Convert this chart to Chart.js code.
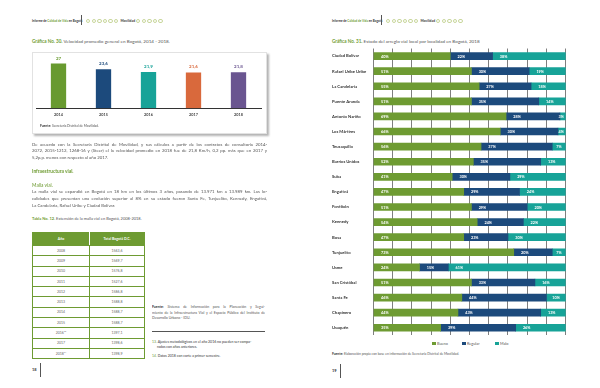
<!DOCTYPE html>
<html><head><meta charset="utf-8">
<script src="https://cdn.jsdelivr.net/npm/chart.js@4.4.1/dist/chart.umd.min.js"></script>
<style>
html,body{margin:0;padding:0;background:#fff;}
#page{position:relative;width:600px;height:388px;overflow:hidden;font-family:Lato,'Open Sans',sans-serif;color:#555;}
.a{position:absolute;white-space:nowrap;}
.t{font-size:4.3px;line-height:6px;height:6px;}
.j{text-align:justify;text-align-last:justify;white-space:normal;overflow:hidden;}
.g{color:#6e9b32;font-weight:bold;}
.hdr{font-size:3px;line-height:6px;height:6px;font-weight:bold;color:#333;display:flex;align-items:center;}
.dot{display:inline-block;width:2.4px;height:2.4px;border:0.6px solid #c9d79c;border-radius:50%;margin-right:1.2px;}
.vline{position:absolute;width:1px;background:#555;}
.small{font-size:3.5px;line-height:5.6px;height:5.6px;}
table.tb{position:absolute;border-collapse:collapse;font-size:3.5px;color:#666;text-align:center;}
table.tb td{border:1px solid #6e9b32;padding:0;height:9.3px;}
table.tb th{background:#6e9b32;color:#fff;font-weight:bold;height:12px;padding:0;border:1px solid #6e9b32;}
.lg{position:absolute;font-size:3.8px;line-height:5px;color:#555;}
.sq{display:inline-block;width:3.5px;height:3.5px;margin-right:1.5px;vertical-align:-0.3px;}
</style></head>
<body><div id="page">

<!-- LEFT PAGE -->
<div class="a hdr" style="left:32px;top:18px;"><span>Informe de <span style="color:#6e9b32">Calidad de Vida</span> en Bogotá</span></div>
<div class="vline" style="left:81px;top:15px;height:10px;"></div>
<div class="a hdr" style="left:86px;top:18px;"><span class="dot"></span><span class="dot"></span><span class="dot"></span><span class="dot"></span><span class="dot"></span><span class="dot"></span><span style="margin:0 1px;font-size:3.3px">Movilidad</span><span class="dot"></span><span class="dot"></span><span class="dot"></span><span class="dot"></span><span class="dot"></span></div>

<div class="a t" style="left:32px;top:38px;font-size:4.6px;"><span class="g">Gráfica No. 30.</span> Velocidad promedio general en Bogotá, 2014 - 2018.</div>

<div class="a" style="left:32px;top:52px;width:235px;height:82px;border:1px solid #e2e2e2;box-sizing:border-box;box-shadow:1.5px 1.5px 2px rgba(0,0,0,0.3);background:#fff;"></div>
<canvas id="c1" width="235" height="82" class="a" style="left:32px;top:52px;"></canvas>
<div class="a small" style="left:40px;top:123.5px;font-size:3.3px;"><b style="color:#333">Fuente:</b> Secretaría Distrital de Movilidad.</div>

<div class="a t j" style="left:32px;top:141.7px;width:235px;">De acuerdo con la Secretaría Distrital de Movilidad, y sus cálculos a partir de los contratos de consultoría 2014-</div>
<div class="a t j" style="left:32px;top:148.3px;width:235px;">2072, 2015-1212, 1268-16 y (Steer) el la velocidad promedio en 2018 fue de 21,8 Km/h, 0,2 pp. más que en 2017 y</div>
<div class="a t" style="left:32px;top:155px;">5,2p.p. menos con respecto al año 2017.</div>

<div class="a t g" style="left:32px;top:168px;font-size:4.8px;">Infraestructura vial.</div>
<div class="a t g" style="left:32px;top:181.7px;font-size:4.8px;font-weight:normal;">Malla vial.</div>
<div class="a t j" style="left:32px;top:189px;width:235px;">La malla vial se expandió en Bogotá en 18 km en los últimos 3 años, pasando de 13.971 km a 13.989 km. Las lo-</div>
<div class="a t j" style="left:32px;top:196px;width:235px;">calidades que presentan una evolución superior al 8% en su estado fueron Santa Fe, Tunjuelito, Kennedy, Engativá,</div>
<div class="a t" style="left:32px;top:203px;">La Candelaria, Rafael Uribe y Ciudad Bolívar.</div>

<div class="a t" style="left:32px;top:216px;font-size:4px;"><span class="g">Tabla No. 12.</span> Extensión de la malla vial en Bogotá, 2008-2018.</div>

<table class="tb" id="tb" style="left:32px;top:232px;width:113px;"></table>

<div class="a small j" style="left:152px;top:305px;width:113px;"><b style="color:#333">Fuente:</b> Sistema de Información para la Planeación y Segui-</div>
<div class="a small j" style="left:152px;top:310.6px;width:113px;">miento de la Infraestructura Vial y el Espacio Público del Instituto de</div>
<div class="a small" style="left:152px;top:316.2px;">Desarrollo Urbano - IDU.</div>
<div class="a" style="left:152px;top:331px;width:113px;height:0.8px;background:#555;"></div>
<div class="a small" style="left:152px;top:339.5px;color:#333;"><span style="color:#6e9b32">13.</span> Ajustes metodológicos en el año 2016 no pueden ser compa-</div>
<div class="a small" style="left:157px;top:344.5px;color:#333;">rados con años anteriores.</div>
<div class="a small" style="left:152px;top:353.9px;color:#333;"><span style="color:#6e9b32">14.</span> Datos 2018 con corte a primer semestre.</div>

<div class="a t" style="left:32px;top:367px;font-size:4px;font-weight:bold;color:#333;">18</div>
<div class="vline" style="left:40px;top:363px;height:14px;"></div>

<!-- RIGHT PAGE -->
<div class="a hdr" style="left:332px;top:18px;"><span>Informe de <span style="color:#6e9b32">Calidad de Vida</span> en Bogotá</span></div>
<div class="vline" style="left:381px;top:15px;height:10px;"></div>
<div class="a hdr" style="left:386px;top:18px;"><span class="dot"></span><span class="dot"></span><span class="dot"></span><span class="dot"></span><span class="dot"></span><span class="dot"></span><span style="margin:0 1px;font-size:3.3px">Movilidad</span><span class="dot"></span><span class="dot"></span><span class="dot"></span><span class="dot"></span><span class="dot"></span></div>

<div class="a t" style="left:332px;top:38px;font-size:4.6px;"><span class="g">Gráfica No. 31.</span> Estado del arreglo vial local por localidad en Bogotá, 2018</div>

<canvas id="c2" width="236" height="296" class="a" style="left:332px;top:44px;"></canvas>

<div class="lg" style="left:432px;top:340.8px;"><span class="sq" style="background:#6e9b32"></span>Bueno</div>
<div class="lg" style="left:462px;top:340.8px;"><span class="sq" style="background:#1c4a7c"></span>Regular</div>
<div class="lg" style="left:495px;top:340.8px;"><span class="sq" style="background:#17a398"></span>Malo</div>

<div class="a small" style="left:332px;top:352.2px;font-size:3.3px;"><b style="color:#333">Fuente:</b> Elaboración propia con base en información de Secretaría Distrital de Movilidad.</div>

<div class="a t" style="left:332px;top:367.7px;font-size:4px;font-weight:bold;color:#333;">19</div>
<div class="vline" style="left:339.5px;top:364px;height:14px;"></div>

</div>
<script>
// ---- data ----
const years = ['2014','2015','2016','2017','2018'];
const speeds = [27, 23.6, 21.9, 21.6, 21.8];
const speedLabels = ['27','23,6','21,9','21,6','21,8'];

const tableYears = ['2008','2009','2010','2011','2012','2013','2014','2015','2016¹³','2017','2018¹⁴'];
const tableValues = ['1563,6','1569,7','1576,8','1527,6','1586,8','1588,8','1588,7','1588,7','1397,1','1398,6','1398,9'];

const localidades = ['Ciudad Bolívar','Rafael Uribe Uribe','La Candelaria','Puente Aranda','Antonio Nariño','Los Mártires','Teusaquillo','Barrios Unidos','Suba','Engativá','Fontibón','Kennedy','Bosa','Tunjuelito','Usme','San Cristóbal','Santa Fe','Chapinero','Usaquén'];
const bueno   = [40,51,55,51,69,66,56,52,41,47,51,54,47,73,24,51,46,44,35];
const regular = [22,30,27,35,28,30,37,35,30,29,29,24,23,20,15,33,44,43,39];
const malo    = [38,19,18,14, 3, 4, 7,13,29,24,20,22,30, 7,61,16,10,13,26];

// ---- styles ----
const yearColors = ['#689a2f','#1c4a7c','#17a398','#d9693c','#6a5590'];
const C_GREEN = '#6e9b32', C_NAVY = '#1c4a7c', C_TEAL = '#17a398';
const FONT = 'Lato, "Open Sans", sans-serif';

// table
(function(){
  const tb = document.getElementById('tb');
  let h = '<tr><th style="width:56px;border-right:1px solid #fff">Año</th><th>Total Bogotá D.C.</th></tr>';
  tableYears.forEach((y,i)=>{ h += '<tr><td>'+y+'</td><td>'+tableValues[i]+'</td></tr>'; });
  tb.innerHTML = h;
})();

// left bar chart
const topLabels = {
  id:'topLabels',
  afterDatasetsDraw(chart){
    const ctx = chart.ctx; const meta = chart.getDatasetMeta(0);
    ctx.save(); ctx.font = 'bold 4.5px '+FONT; ctx.textAlign='center'; ctx.textBaseline='middle';
    meta.data.forEach((el,i)=>{ ctx.fillStyle = yearColors[i]; ctx.fillText(speedLabels[i], el.x, el.y-5.5); });
    ctx.restore();
  }
};
new Chart(document.getElementById('c1'), {
  type:'bar',
  data:{labels:years, datasets:[{data:speeds, backgroundColor:yearColors, barPercentage:0.34, categoryPercentage:1}]},
  options:{
    responsive:false, animation:false, devicePixelRatio:1,
    layout:{padding:{left:4,right:6,top:5,bottom:13.3}},
    plugins:{legend:{display:false}, tooltip:{enabled:false}},
    scales:{
      x:{grid:{display:false,drawTicks:false}, border:{display:true,color:'#333',width:1},
         ticks:{font:{family:FONT,size:3.8,weight:'bold'},color:'#444',padding:4}},
      y:{display:false,min:0,max:31}
    }
  },
  plugins:[topLabels]
});

// right stacked horizontal bar chart
const inLabels = {
  id:'inLabels',
  afterDatasetsDraw(chart){
    const ctx = chart.ctx; const area = chart.chartArea;
    ctx.save(); ctx.font = 'bold 3.8px '+FONT; ctx.fillStyle='#fff'; ctx.textAlign='center'; ctx.textBaseline='middle';
    chart.data.datasets.forEach((ds,di)=>{
      chart.getDatasetMeta(di).data.forEach((el,i)=>{
        const p = el.getProps(['x','y','base'], true);
        const w = p.x - p.base;
        let cx = Math.min(p.base + 11, p.base + w/2);
        cx = Math.min(cx, area.right - 4.5);
        ctx.fillText(ds.data[i] + '%', cx, p.y + 0.3);
      });
    });
    ctx.restore();
  }
};
new Chart(document.getElementById('c2'), {
  type:'bar',
  data:{labels:localidades, datasets:[
    {label:'Bueno', data:bueno, backgroundColor:C_GREEN, barThickness:7},
    {label:'Regular', data:regular, backgroundColor:C_NAVY, barThickness:7},
    {label:'Malo', data:malo, backgroundColor:C_TEAL, barThickness:7}
  ]},
  options:{
    indexAxis:'y', responsive:false, animation:false, devicePixelRatio:1,
    layout:{padding:{left:0,right:2.3,top:1.7,bottom:4.7}},
    plugins:{legend:{display:false}, tooltip:{enabled:false}},
    scales:{
      x:{stacked:true,min:0,max:100,
         ticks:{display:false,stepSize:10},
         grid:{color:'#7f7f7f',lineWidth:1,drawTicks:false},
         border:{display:false},
         afterFit(s){ s.height = 0; }},
      y:{stacked:true, grid:{display:false,drawTicks:false}, border:{display:false},
         ticks:{crossAlign:'far',font:{family:FONT,size:4.2,weight:'bold'},color:'#333',padding:2},
         afterFit(s){ s.width = 41.3; }}
    }
  },
  plugins:[inLabels]
});
</script>
</body></html>
